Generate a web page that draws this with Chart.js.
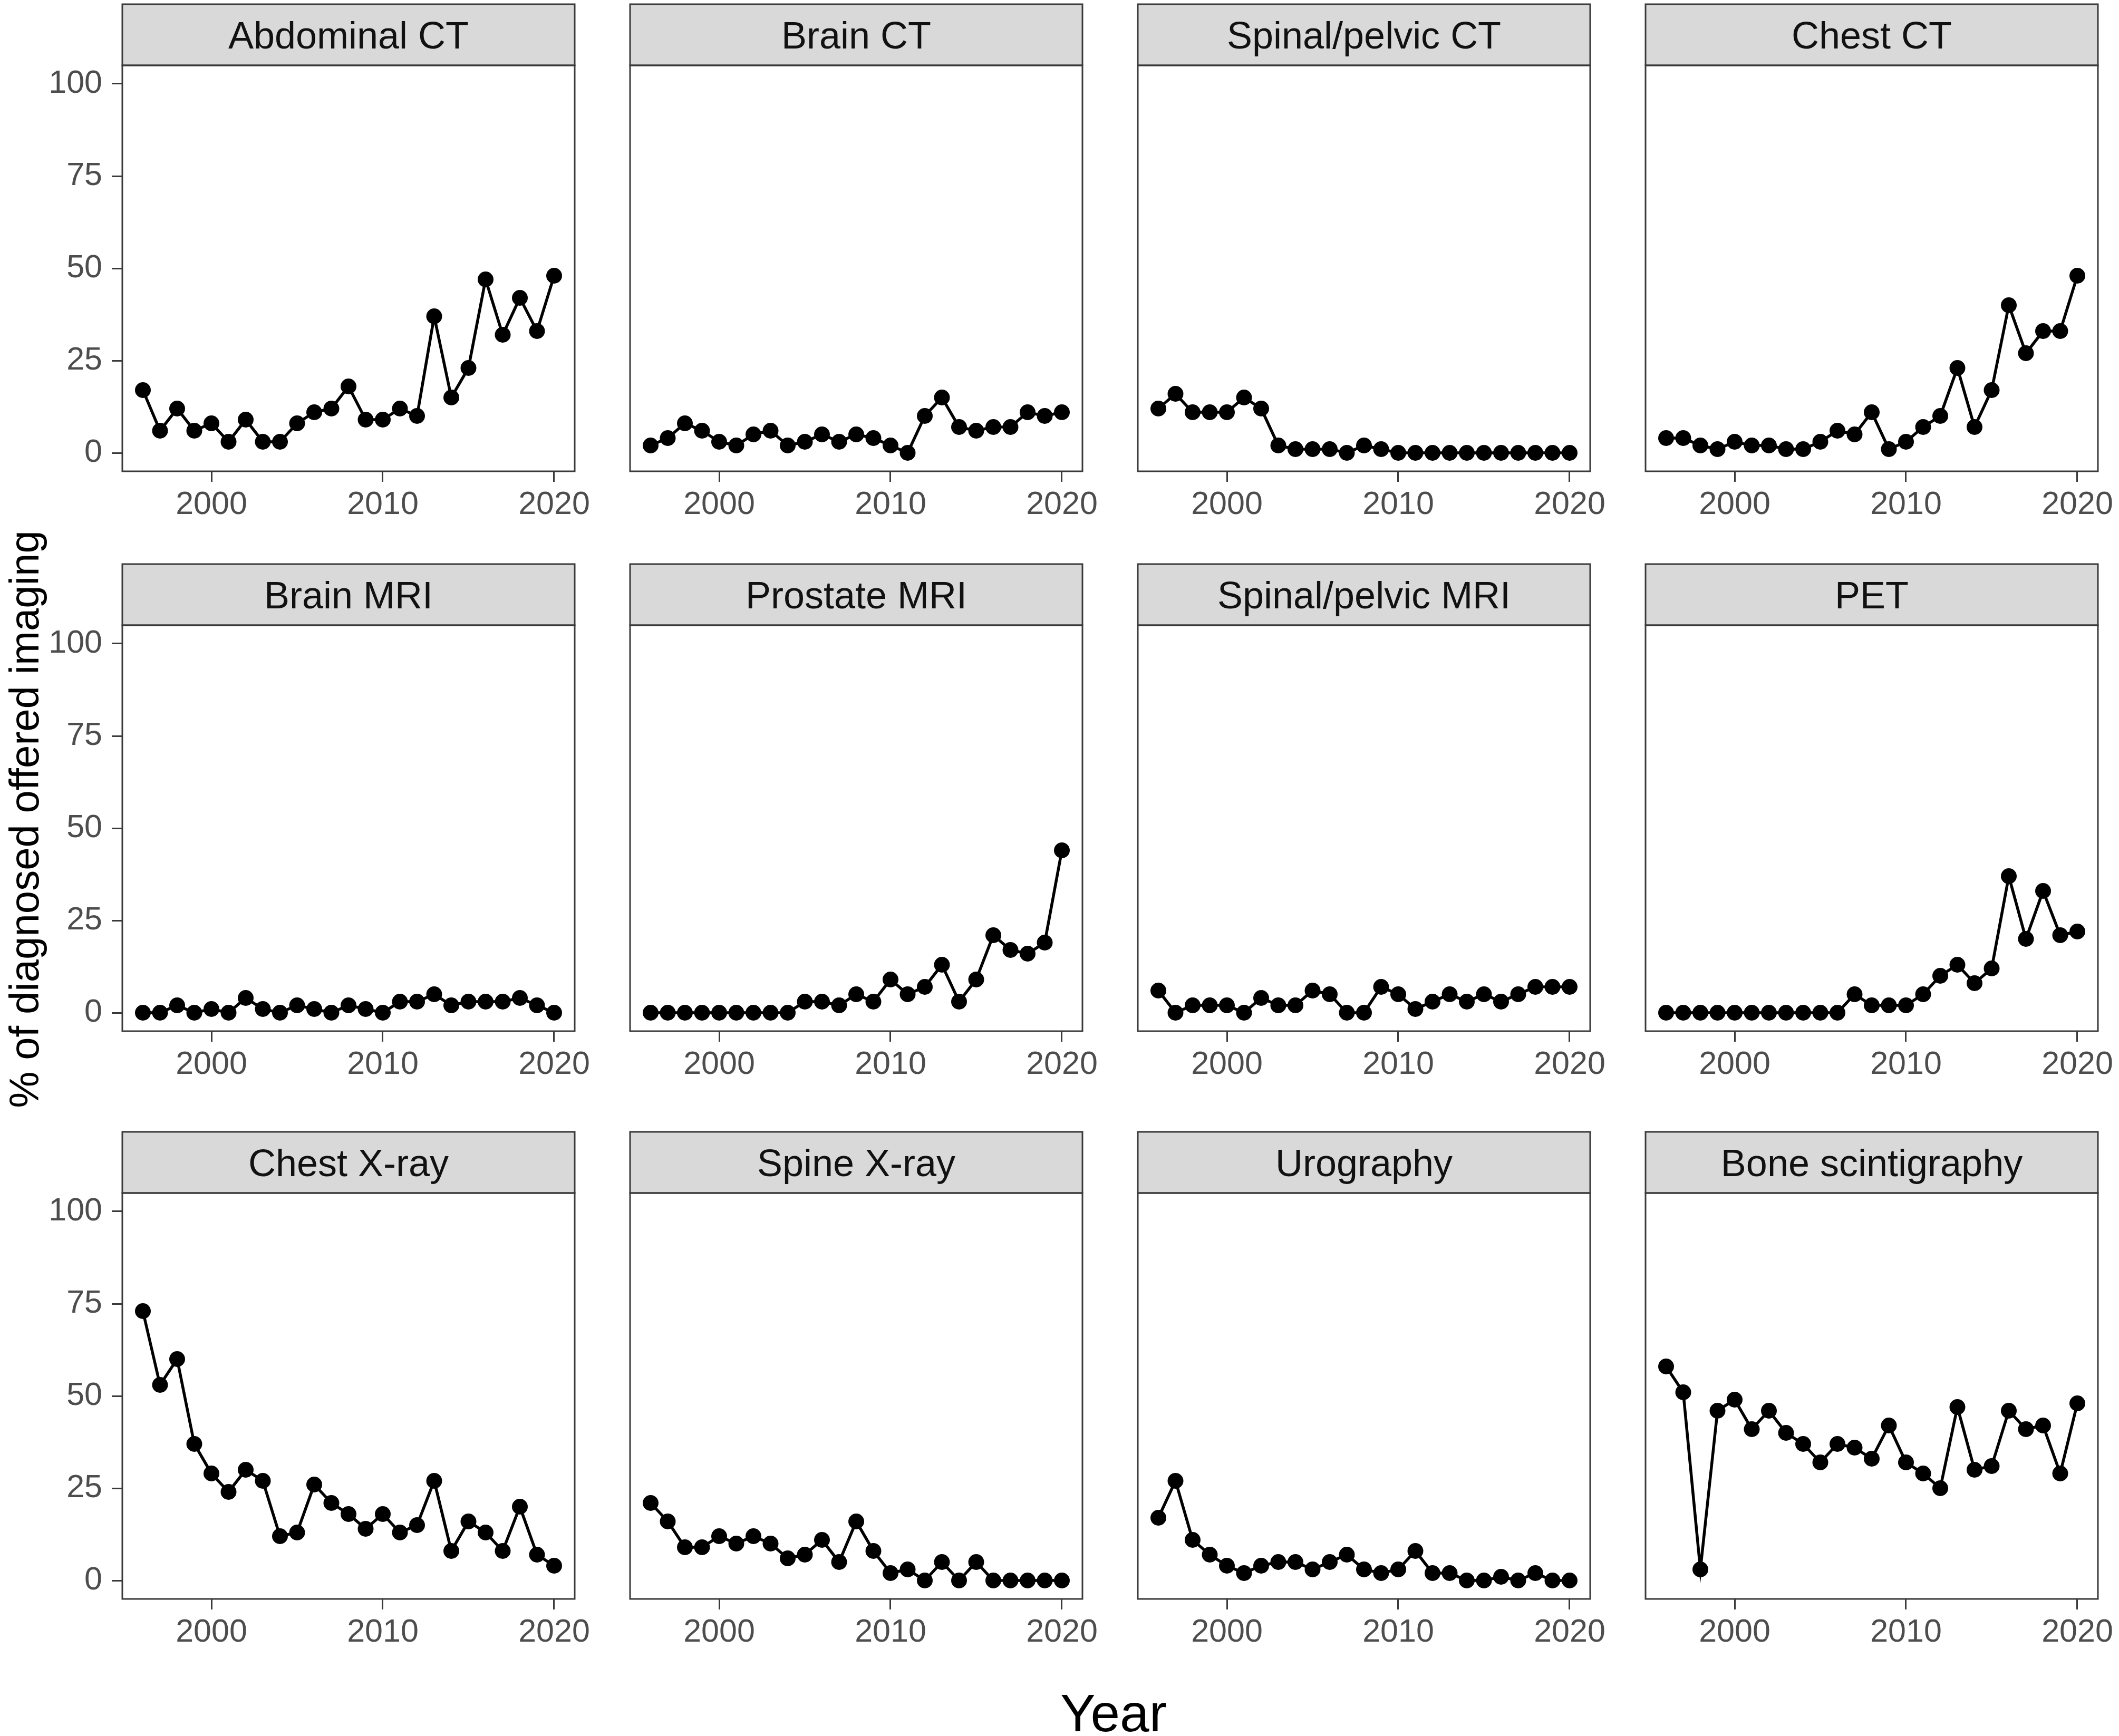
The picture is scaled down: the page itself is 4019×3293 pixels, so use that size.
<!DOCTYPE html>
<html>
<head>
<meta charset="utf-8">
<script src="https://cdn.jsdelivr.net/npm/chart.js@4.4.0/dist/chart.umd.min.js"></script>
<style>
html,body{margin:0;padding:0;background:#fff;}
#fig{position:relative;width:4019px;height:3293px;background:#fff;overflow:hidden;font-family:"Liberation Sans",Arial,sans-serif;}
#fig canvas{position:absolute;}
.ttl{position:absolute;white-space:nowrap;color:#000;line-height:1;font-family:"Liberation Sans",Arial,sans-serif;}
#ytitle{left:46px;top:1554px;font-size:78px;transform:translate(-50%,-50%) rotate(-90deg);}
#xtitle{left:2112px;top:3249px;font-size:100px;transform:translate(-50%,-50%);}
</style>
</head>
<body>
<div id="fig">
  <div class="ttl" id="ytitle">% of diagnosed offered imaging</div>
  <div class="ttl" id="xtitle">Year</div>
</div>
<script>
// ---------- data ----------
const years = [1996,1997,1998,1999,2000,2001,2002,2003,2004,2005,2006,2007,2008,2009,2010,2011,2012,2013,2014,2015,2016,2017,2018,2019,2020];
const panelTitles = ['Abdominal CT','Brain CT','Spinal/pelvic CT','Chest CT','Brain MRI','Prostate MRI','Spinal/pelvic MRI','PET','Chest X-ray','Spine X-ray','Urography','Bone scintigraphy'];
const abdominalCT      = [17,6,12,6,8,3,9,3,3,8,11,12,18,9,9,12,10,37,15,23,47,32,42,33,48];
const brainCT          = [2,4,8,6,3,2,5,6,2,3,5,3,5,4,2,0,10,15,7,6,7,7,11,10,11];
const spinalPelvicCT   = [12,16,11,11,11,15,12,2,1,1,1,0,2,1,0,0,0,0,0,0,0,0,0,0,0];
const chestCT          = [4,4,2,1,3,2,2,1,1,3,6,5,11,1,3,7,10,23,7,17,40,27,33,33,48];
const brainMRI         = [0,0,2,0,1,0,4,1,0,2,1,0,2,1,0,3,3,5,2,3,3,3,4,2,0];
const prostateMRI      = [0,0,0,0,0,0,0,0,0,3,3,2,5,3,9,5,7,13,3,9,21,17,16,19,44];
const spinalPelvicMRI  = [6,0,2,2,2,0,4,2,2,6,5,0,0,7,5,1,3,5,3,5,3,5,7,7,7];
const pet              = [0,0,0,0,0,0,0,0,0,0,0,5,2,2,2,5,10,13,8,12,37,20,33,21,22];
const chestXray        = [73,53,60,37,29,24,30,27,12,13,26,21,18,14,18,13,15,27,8,16,13,8,20,7,4];
const spineXray        = [21,16,9,9,12,10,12,10,6,7,11,5,16,8,2,3,0,5,0,5,0,0,0,0,0];
const urography        = [17,27,11,7,4,2,4,5,5,3,5,7,3,2,3,8,2,2,0,0,1,0,2,0,0];
const boneScintigraphy = [58,51,3,46,49,41,46,40,37,32,37,36,33,42,32,29,25,47,30,31,46,41,42,29,48];
const seriesValues = [abdominalCT,brainCT,spinalPelvicCT,chestCT,brainMRI,prostateMRI,spinalPelvicMRI,pet,chestXray,spineXray,urography,boneScintigraphy];
const yTicks = [0,25,50,75,100];
const xTicks = [2000,2010,2020];

// ---------- layout ----------
const COL_LEFT = [232,1195,2158,3121];
const PANEL_TOP = [124,1186,2263];
const PANEL_W = 858, PANEL_H = 770, STRIP_H = 116;
const ML = 240, MR = 80, MT = 10, MB = 130;
const FONT = '"Liberation Sans", Arial, sans-serif';
const EDGE = '#3a3a3a';

const stripPlugin = {
  id: 'strip',
  afterDraw(chart, args, opts) {
    const ctx = chart.ctx, a = chart.chartArea;
    const w = a.right - a.left;
    const top = a.top - opts.h;
    ctx.save();
    ctx.fillStyle = '#D9D9D9';
    ctx.fillRect(a.left, top, w, opts.h);
    ctx.strokeStyle = EDGE;
    ctx.lineWidth = 3;
    ctx.strokeRect(a.left, top, w, opts.h);
    ctx.strokeRect(a.left, a.top, w, a.bottom - a.top);
    ctx.fillStyle = '#111';
    ctx.font = '72px ' + FONT;
    ctx.textAlign = 'center';
    ctx.textBaseline = 'alphabetic';
    ctx.fillText(opts.title, a.left + w / 2, top + opts.h / 2 + 26);
    ctx.restore();
  }
};

const fig = document.getElementById('fig');
panelTitles.forEach((title, i) => {
  const r = Math.floor(i / 4), c = i % 4;
  const W = ML + PANEL_W + MR, H = MT + STRIP_H + PANEL_H + MB;
  const cv = document.createElement('canvas');
  cv.width = W; cv.height = H;
  cv.style.width = W + 'px'; cv.style.height = H + 'px';
  cv.style.left = (COL_LEFT[c] - ML) + 'px';
  cv.style.top = (PANEL_TOP[r] - STRIP_H - MT) + 'px';
  fig.appendChild(cv);
  const vals = seriesValues[i];
  new Chart(cv, {
    type: 'line',
    data: {
      datasets: [{
        data: years.map((y, k) => ({x: y, y: vals[k]})),
        borderColor: '#000', backgroundColor: '#000', borderWidth: 5.5,
        pointRadius: 15, pointHoverRadius: 15, pointBackgroundColor: '#000',
        pointBorderWidth: 0, tension: 0, clip: false
      }]
    },
    options: {
      responsive: false, animation: false, devicePixelRatio: 1, events: [],
      layout: {padding: {top: MT + STRIP_H, right: MR, left: 0, bottom: 0}},
      plugins: {legend: {display: false}, tooltip: {enabled: false}, strip: {title: title, h: STRIP_H}},
      scales: {
        x: {
          type: 'linear', min: 1994.8, max: 2021.2,
          afterBuildTicks: s => { s.ticks = xTicks.map(v => ({value: v})); },
          afterFit: s => { s.height = MB; s.paddingLeft = 0; s.paddingRight = 0; },
          ticks: {font: {family: FONT, size: 61}, color: '#4D4D4D', padding: 8, maxRotation: 0, minRotation: 0, autoSkip: false, callback: v => String(v)},
          grid: {drawOnChartArea: false, drawTicks: true, tickLength: 20, tickWidth: 3, tickColor: EDGE},
          border: {display: false}
        },
        y: {
          type: 'linear', min: -5, max: 105,
          afterBuildTicks: s => { s.ticks = yTicks.map(v => ({value: v})); },
          afterFit: s => { s.width = ML; s.paddingTop = 0; s.paddingBottom = 0; },
          ticks: {display: c === 0, font: {family: FONT, size: 61}, color: '#4D4D4D', padding: 18, callback: v => String(v)},
          grid: {display: c === 0, drawOnChartArea: false, drawTicks: true, tickLength: 20, tickWidth: 3, tickColor: EDGE},
          border: {display: false}
        }
      }
    },
    plugins: [stripPlugin]
  });
});
</script>
</body>
</html>
